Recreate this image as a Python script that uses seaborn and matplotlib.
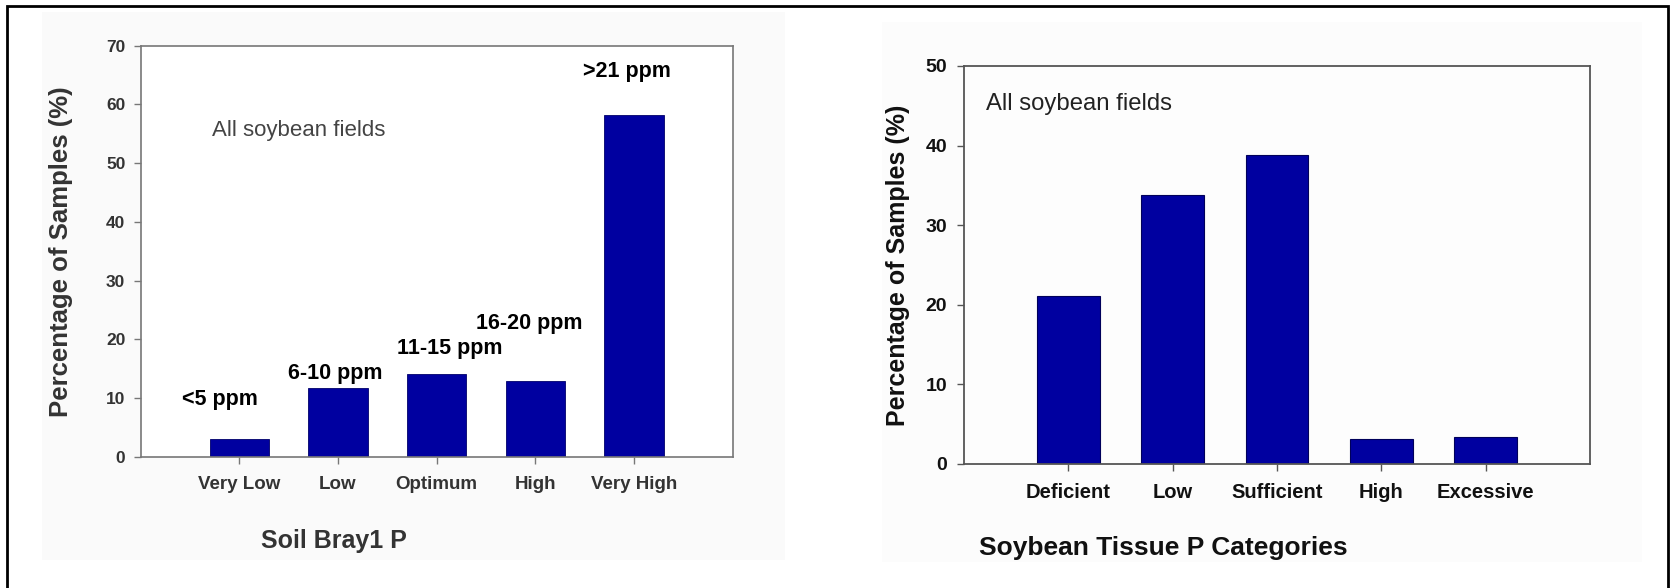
import matplotlib
matplotlib.use("Agg")
import matplotlib.pyplot as plt
from matplotlib.patches import Rectangle
import seaborn as sns
import pandas as pd

# Soil test P (Bray1) categories
soil_cats = ["Very Low", "Low", "Optimum", "High", "Very High"]
soil_pct = [3.0, 11.8, 14.2, 13.0, 58.2]
soil_ranges = ["<5 ppm", "6-10 ppm", "11-15 ppm", "16-20 ppm", ">21 ppm"]
range_x = [-0.2, 0.97, 2.13, 2.94, 3.93]
range_y = [9.8, 14.2, 18.4, 22.8, 65.6]

# Soybean tissue P categories
tissue_cats = ["Deficient", "Low", "Sufficient", "High", "Excessive"]
tissue_pct = [21.1, 33.8, 38.8, 3.1, 3.4]

sns.set_style("white")
plt.rcParams["font.family"] = ["Liberation Sans", "DejaVu Sans"]

BAR = "#0000A0"
W, H = 1671, 588
fig = plt.figure(figsize=(W / 100, H / 100), dpi=100)

# faint panel backgrounds, kept behind the axes
fig.patches.append(Rectangle((42 / W, 1 - 560 / H), (785 - 42) / W, (560 - 12) / H,
                             transform=fig.transFigure, facecolor="#fafafa",
                             edgecolor="none", zorder=-10))
fig.patches.append(Rectangle((882 / W, 1 - 562 / H), (1642 - 882) / W, (562 - 22) / H,
                             transform=fig.transFigure, facecolor="#fcfcfc",
                             edgecolor="none", zorder=-10))
# outer frame (open at the bottom edge)
fig.patches.append(Rectangle((7 / W, -0.05), (1668 - 7) / W, 1.05 - 6 / H,
                             transform=fig.transFigure, facecolor="none",
                             edgecolor="black", linewidth=2.0, zorder=5))

ax1 = fig.add_axes([140.6 / W, 1 - 457 / H, 592 / W, 411.3 / H])
ax2 = fig.add_axes([964 / W, 1 - 464 / H, 626 / W, 398 / H])

soil_df = pd.DataFrame({"cat": soil_cats, "pct": soil_pct})
tissue_df = pd.DataFrame({"cat": tissue_cats, "pct": tissue_pct})

sns.barplot(data=soil_df, x="cat", y="pct", color=BAR, width=0.6,
            saturation=1, edgecolor="#00006a", linewidth=0.6, ax=ax1)
sns.barplot(data=tissue_df, x="cat", y="pct", color=BAR, width=0.6,
            saturation=1, edgecolor="#00005a", linewidth=0.8, ax=ax2)

# ---- left panel: soil Bray1 P
ax1.set_facecolor("white")
ax1.set_xlim(-1, 5)
ax1.set_ylim(0, 70)
ax1.set_yticks(range(0, 71, 10))
for s in ax1.spines.values():
    s.set_color("#777777")
    s.set_linewidth(1.2)
ax1.tick_params(axis="y", direction="out", length=5, width=1, color="#777777",
                pad=6, labelsize=12.5, labelcolor="#333333", left=True)
ax1.tick_params(axis="x", direction="out", length=5, width=1, color="#777777",
                pad=9, labelsize=13.5, labelcolor="#333333", bottom=True)
for lab in ax1.get_xticklabels() + ax1.get_yticklabels():
    lab.set_fontweight("bold")
ax1.set_ylabel("Percentage of Samples (%)", fontsize=18.5, fontweight="bold",
               color="#333333")
ax1.yaxis.set_label_coords(-0.114, 0.5)
ax1.set_xlabel("Soil Bray1 P", fontsize=18, fontweight="bold", color="#333333")
ax1.xaxis.set_label_coords(0.326, -0.175)
ax1.text(0.121, 0.793, "All soybean fields", transform=ax1.transAxes,
         ha="left", va="center", fontsize=16, color="#444444")
for x, y, t in zip(range_x, range_y, soil_ranges):
    ax1.text(x, y, t, ha="center", va="center", fontsize=15.5,
             fontweight="bold", color="black")

# ---- right panel: soybean tissue P
ax2.set_facecolor("#fdfdfd")
ax2.set_xlim(-1, 5)
ax2.set_ylim(0, 50)
ax2.set_yticks(range(0, 51, 10))
for s in ax2.spines.values():
    s.set_color("#555555")
    s.set_linewidth(1.3)
ax2.tick_params(axis="y", direction="out", length=5, width=1, color="#555555",
                pad=7, labelsize=14, labelcolor="#111111", left=True)
ax2.tick_params(axis="x", direction="out", length=5, width=1, color="#555555",
                pad=9, labelsize=14.5, labelcolor="#111111", bottom=True)
for lab in ax2.get_xticklabels() + ax2.get_yticklabels():
    lab.set_fontweight("bold")
ax2.set_ylabel("Percentage of Samples (%)", fontsize=18, fontweight="bold",
               color="#111111")
ax2.yaxis.set_label_coords(-0.087, 0.5)
ax2.set_xlabel("Soybean Tissue P Categories", fontsize=19, fontweight="bold",
               color="#111111")
ax2.xaxis.set_label_coords(0.319, -0.18)
ax2.text(0.035, 0.905, "All soybean fields", transform=ax2.transAxes,
         ha="left", va="center", fontsize=17.2, color="#222222")

fig.savefig("out.png", dpi=100)
